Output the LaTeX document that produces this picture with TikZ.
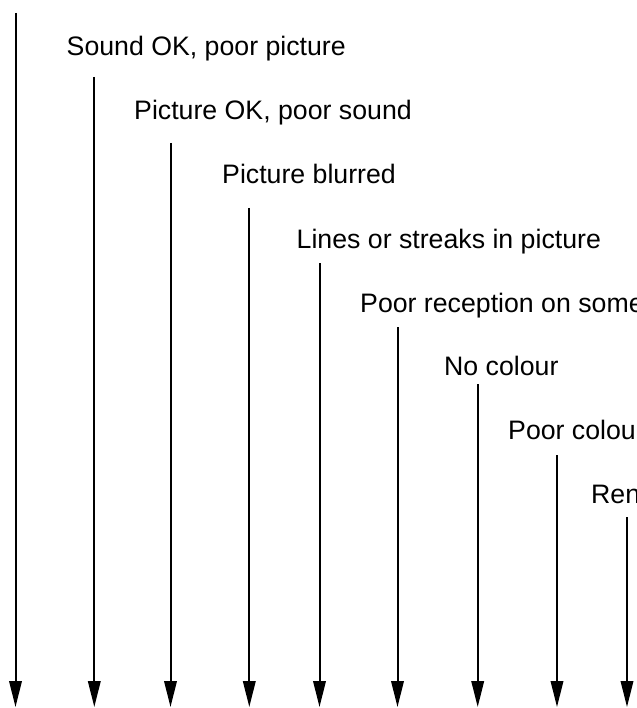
\documentclass[tikz,border=0pt]{standalone}
\usepackage{fontspec}
\setmainfont{Liberation Sans}
\usetikzlibrary{arrows.meta}
\tikzset{
  lbl/.style={anchor=base west, inner sep=0pt, font=\fontsize{26.7}{32}\selectfont},
  downarrow/.style={line width=2pt, -{Triangle[length=26pt,width=12.5pt]}}
}
\begin{document}
\begin{tikzpicture}[x=1pt,y=-1pt]
\clip (0,0) rectangle (636,708);
\fill[white] (0,0) rectangle (636,708);
% labels
\node[lbl] (l1) at (66.5,56) {Sound OK, poor picture};
\node[lbl] (l2) at (134,120) {Picture OK, poor sound};
\node[lbl] (l3) at (222,184) {Picture blurred};
\node[lbl] (l4) at (296.5,248) {Lines or streaks in picture};
\node[lbl] (l5) at (360,312) {Poor reception on some};
\node[lbl] (l6) at (444,375) {No colour};
\node[lbl] (l7) at (508,439) {Poor colou};
\node[lbl] (l8) at (591,503) {Ren};
% arrow ends
\coordinate (s1) at (15.5,13);  \coordinate (e1) at (15.5,707);
\coordinate (s2) at (94.3,77);  \coordinate (e2) at (94.3,707);
\coordinate (s3) at (170.5,143);\coordinate (e3) at (170.5,707);
\coordinate (s4) at (249.3,208);\coordinate (e4) at (249.3,707);
\coordinate (s5) at (319.5,263);\coordinate (e5) at (319.5,707);
\coordinate (s6) at (397.5,327);\coordinate (e6) at (397.5,707);
\coordinate (s7) at (477.7,384);\coordinate (e7) at (477.7,707);
\coordinate (s8) at (557,455);  \coordinate (e8) at (557,707);
\coordinate (s9) at (627,517);  \coordinate (e9) at (627,707);
\foreach \i in {1,...,9}{\draw[downarrow] (s\i) -- (e\i);}
\end{tikzpicture}
\end{document}
